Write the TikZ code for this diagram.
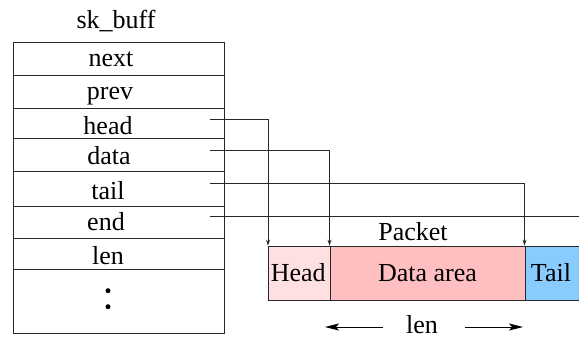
\documentclass[tikz,border=0pt]{standalone}
\usepackage{fontspec}
\setmainfont{Liberation Serif}
\usetikzlibrary{arrows.meta}
\definecolor{headfill}{RGB}{255,224,226}
\definecolor{datafill}{RGB}{255,190,192}
\definecolor{tailfill}{RGB}{136,204,255}
\definecolor{linegray}{RGB}{40,40,40}
\tikzset{
  lbl/.style={anchor=base, inner sep=0pt, font=\fontsize{26}{30}\selectfont},
  boxline/.style={draw=linegray, line width=0.8pt},
  ptr/.style={draw=linegray, line width=0.8pt, -{Stealth[length=6pt,width=4pt]}},
  lenarrow/.style={draw=black, line width=0.9pt, -{Stealth[length=14pt,width=7pt,inset=3pt]}},
  pktbox/.style={boxline, minimum height=54.6pt, inner sep=0pt, anchor=north west},
}
\begin{document}
\begin{tikzpicture}[x=1pt, y=-1pt]
\useasboundingbox (0,0) rectangle (579,338);
\clip (0,0) rectangle (579,338);

% sk_buff structure: outer frame and field separators
\draw[boxline] (13,42.5) rectangle (224,333.7);
\foreach \yy in {75,108,138,171.5,206.5,238.3,269.7}
  \draw[boxline] (13,\yy) -- (224,\yy);

\node[lbl] (title) at (116,28) {sk\_buff};
\node[lbl] (fnext) at (111,66.7) {next};
\node[lbl] (fprev) at (110,99.3) {prev};
\node[lbl] (fhead) at (108,134.3) {head};
\node[lbl] (fdata) at (109,164) {data};
\node[lbl] (ftail) at (108,199.3) {tail};
\node[lbl] (fend)  at (106,230) {end};
\node[lbl] (flen)  at (108,264.3) {len};
\fill (108,290.7) circle (2.5pt);
\fill (108,306.7) circle (2.5pt);

% pointer origins inside the fields
\coordinate (phead) at (210,119);
\coordinate (pdata) at (210,150);
\coordinate (ptail) at (210,183);
\coordinate (pend)  at (210,216.5);
\coordinate (pendout) at (585,216.5);

% packet buffer
\node[pktbox, fill=headfill, minimum width=61.5pt] (hbox) at (268,245.7) {};
\node[pktbox, fill=datafill, minimum width=195pt]  (dbox) at (329.5,245.7) {};
\node[pktbox, fill=tailfill, minimum width=70pt]   (tbox) at (524.5,245.7) {};

\node[lbl] (thead) at (298.3,281) {Head};
\node[lbl] (tdata) at (427.5,281) {Data area};
\node[lbl] (ttail) at (551,281) {Tail};
\node[lbl] (tpacket) at (413,240) {Packet};

% pointers into the packet
\draw[ptr] (phead) -| (hbox.north west);
\draw[ptr] (pdata) -| (dbox.north west);
\draw[ptr] (ptail) -| (tbox.north west);
\draw[boxline] (pend) -- (pendout);

% length of the data area
\node[lbl] (tlen) at (422,333) {len};
\coordinate (lenL1) at (383,327);
\coordinate (lenL2) at (325,327);
\coordinate (lenR1) at (465,327);
\coordinate (lenR2) at (523,327);
\draw[lenarrow] (lenL1) -- (lenL2);
\draw[lenarrow] (lenR1) -- (lenR2);
\end{tikzpicture}
\end{document}
